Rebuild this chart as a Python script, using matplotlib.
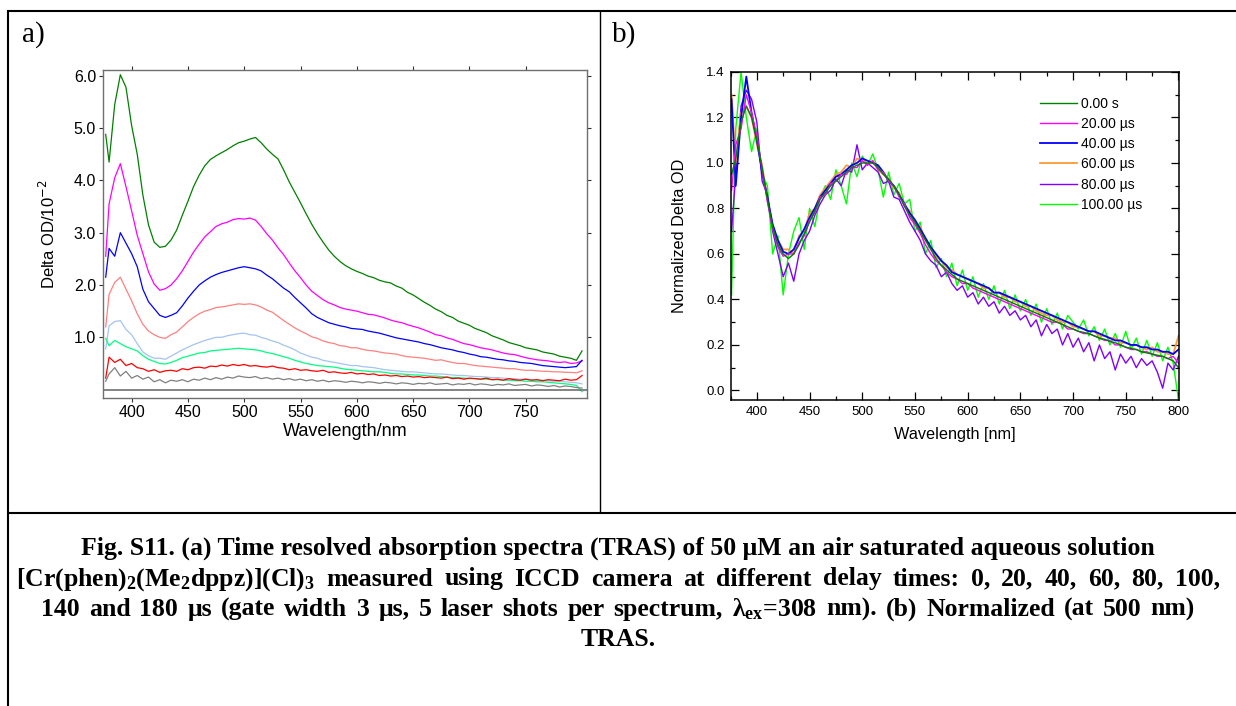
import matplotlib
matplotlib.use("Agg")
import matplotlib.pyplot as plt
from matplotlib.lines import Line2D
from matplotlib.ticker import MultipleLocator, FixedLocator, FormatStrFormatter
import numpy as np

plt.rcParams['font.family'] = 'Liberation Sans'
plt.rcParams['mathtext.fontset'] = 'dejavusans'
plt.rcParams['mathtext.rm'] = 'Liberation Serif:bold'
plt.rcParams['mathtext.it'] = 'Liberation Serif:bold'
plt.rcParams['mathtext.bf'] = 'Liberation Serif:bold'

# ---- data, panel a (Delta OD / 1e-2) ----
wl_a = [377] + list(range(380, 801, 5))

od_0us = [4.88, 4.35, 5.45, 6.02, 5.78, 5.05,
          4.5, 3.72, 3.15, 2.82, 2.72, 2.74, 2.86, 3.05, 3.33, 3.6,
          3.88, 4.1, 4.28, 4.4, 4.47, 4.53, 4.59, 4.66, 4.72, 4.75,
          4.79, 4.82, 4.72, 4.6, 4.5, 4.41, 4.2, 3.97, 3.77, 3.57,
          3.36, 3.16, 2.98, 2.82, 2.67, 2.55, 2.45, 2.37, 2.31, 2.26,
          2.22, 2.17, 2.14, 2.09, 2.06, 2.04, 1.98, 1.94, 1.86, 1.81,
          1.74, 1.67, 1.61, 1.54, 1.49, 1.42, 1.38, 1.31, 1.27, 1.23,
          1.17, 1.13, 1.09, 1.03, 0.99, 0.95, 0.9, 0.87, 0.84, 0.8,
          0.78, 0.76, 0.72, 0.7, 0.68, 0.64, 0.62, 0.6, 0.56, 0.74]
od_20us = [2.55, 3.55, 4.05, 4.32, 3.88, 3.42,
           2.95, 2.6, 2.25, 2.02, 1.9, 1.93, 2.0, 2.12, 2.27, 2.45,
           2.63, 2.78, 2.92, 3.02, 3.12, 3.17, 3.2, 3.25, 3.27, 3.26,
           3.28, 3.24, 3.12, 2.98, 2.86, 2.71, 2.58, 2.42, 2.27, 2.14,
           2.0, 1.88, 1.8, 1.72, 1.66, 1.62, 1.57, 1.54, 1.52, 1.5,
           1.47, 1.44, 1.43, 1.4, 1.37, 1.33, 1.3, 1.28, 1.24, 1.21,
           1.18, 1.14, 1.1, 1.05, 1.03, 0.99, 0.96, 0.92, 0.88, 0.86,
           0.83, 0.8, 0.78, 0.76, 0.73, 0.7, 0.68, 0.67, 0.64, 0.61,
           0.59, 0.57, 0.56, 0.55, 0.53, 0.52, 0.53, 0.5, 0.51, 0.55]
od_40us = [2.15, 2.7, 2.55, 3.0, 2.8, 2.6,
           2.35, 1.92, 1.68, 1.55, 1.42, 1.38, 1.42, 1.47, 1.6, 1.75,
           1.88, 2.0, 2.08, 2.15, 2.2, 2.24, 2.27, 2.3, 2.33, 2.35,
           2.33, 2.31, 2.27, 2.19, 2.12, 2.03, 1.94, 1.87, 1.76, 1.66,
           1.56, 1.45, 1.38, 1.33, 1.28, 1.25, 1.22, 1.2, 1.17, 1.16,
           1.15, 1.12, 1.1, 1.08, 1.05, 1.02, 0.99, 0.97, 0.95, 0.93,
           0.91, 0.88, 0.86, 0.83, 0.8, 0.78, 0.76, 0.73, 0.71, 0.68,
           0.66, 0.63, 0.62, 0.6, 0.58, 0.57, 0.55, 0.54, 0.52, 0.51,
           0.5, 0.48, 0.46, 0.45, 0.44, 0.43, 0.42, 0.43, 0.44, 0.56]
od_60us = [1.2, 1.82, 2.05, 2.15, 1.92, 1.7,
           1.45, 1.25, 1.12, 1.05, 1.0, 0.98, 1.05, 1.1, 1.2, 1.3,
           1.38, 1.45, 1.5, 1.53, 1.57, 1.58, 1.6, 1.62, 1.64, 1.63,
           1.64, 1.62, 1.58, 1.52, 1.48, 1.4, 1.32, 1.25, 1.18, 1.12,
           1.07, 1.01, 0.98, 0.93, 0.9, 0.88, 0.84, 0.83, 0.8, 0.8,
           0.77, 0.75, 0.74, 0.72, 0.7, 0.69, 0.68, 0.65, 0.63, 0.62,
           0.61, 0.6, 0.58, 0.56, 0.57, 0.54, 0.52, 0.5, 0.5, 0.48,
           0.46, 0.45, 0.44, 0.43, 0.42, 0.41, 0.4, 0.4, 0.38, 0.37,
           0.37, 0.36, 0.35, 0.35, 0.34, 0.34, 0.33, 0.33, 0.32, 0.36]
od_80us = [0.78, 1.22, 1.3, 1.32, 1.15, 1.05,
           0.88, 0.72, 0.65, 0.6, 0.6, 0.58, 0.64, 0.7, 0.76, 0.81,
           0.86, 0.9, 0.94, 0.97, 1.0, 1.0, 1.03, 1.05, 1.07, 1.08,
           1.05, 1.04, 1.0, 0.97, 0.93, 0.9, 0.85, 0.81, 0.76, 0.7,
           0.66, 0.62, 0.6, 0.56, 0.54, 0.52, 0.5, 0.48, 0.46, 0.46,
           0.44, 0.43, 0.42, 0.4, 0.38, 0.37, 0.36, 0.35, 0.34, 0.34,
           0.33, 0.32, 0.31, 0.3, 0.3, 0.29, 0.28, 0.27, 0.27, 0.26,
           0.25, 0.25, 0.24, 0.23, 0.23, 0.22, 0.21, 0.21, 0.2, 0.2,
           0.19, 0.18, 0.18, 0.17, 0.16, 0.16, 0.15, 0.14, 0.13, 0.11]
od_100us = [0.98, 0.84, 0.94, 0.88, 0.82, 0.78,
            0.74, 0.65, 0.58, 0.54, 0.5, 0.49, 0.52, 0.56, 0.61, 0.64,
            0.67, 0.7, 0.71, 0.74, 0.75, 0.76, 0.77, 0.78, 0.79, 0.78,
            0.77, 0.76, 0.74, 0.71, 0.69, 0.66, 0.63, 0.6, 0.56, 0.53,
            0.5, 0.48, 0.46, 0.45, 0.44, 0.43, 0.41, 0.39, 0.38, 0.37,
            0.36, 0.35, 0.34, 0.34, 0.33, 0.31, 0.3, 0.3, 0.29, 0.28,
            0.28, 0.27, 0.26, 0.26, 0.25, 0.24, 0.23, 0.23, 0.22, 0.21,
            0.21, 0.2, 0.2, 0.19, 0.19, 0.18, 0.18, 0.17, 0.17, 0.16,
            0.16, 0.15, 0.15, 0.14, 0.13, 0.12, 0.11, 0.1, 0.08, -0.04]
od_140us = [0.22, 0.62, 0.52, 0.58, 0.46, 0.5,
            0.42, 0.4, 0.35, 0.38, 0.33, 0.36, 0.37, 0.35, 0.4, 0.38,
            0.42, 0.43, 0.41, 0.45, 0.44, 0.47, 0.45, 0.48, 0.46, 0.48,
            0.45, 0.46, 0.44, 0.43, 0.45, 0.42, 0.41, 0.38, 0.4, 0.37,
            0.38, 0.36, 0.35, 0.37, 0.33, 0.34, 0.32, 0.31, 0.33, 0.3,
            0.31, 0.29, 0.3, 0.27, 0.28, 0.26, 0.27, 0.25, 0.26, 0.24,
            0.25, 0.23, 0.24, 0.23, 0.22, 0.24, 0.21, 0.22, 0.2, 0.22,
            0.21, 0.2, 0.22, 0.19, 0.2, 0.18, 0.21, 0.19, 0.18, 0.2,
            0.18, 0.19, 0.17, 0.19, 0.18, 0.17, 0.2, 0.18, 0.19, 0.27]
od_180us = [0.16, 0.3, 0.42, 0.26, 0.35, 0.22,
            0.27, 0.2, 0.24, 0.15, 0.19, 0.13, 0.18, 0.16, 0.19, 0.15,
            0.2, 0.18, 0.22, 0.19, 0.23, 0.2, 0.24, 0.22, 0.26, 0.24,
            0.23, 0.25, 0.21, 0.23, 0.2, 0.22, 0.19, 0.21, 0.18, 0.2,
            0.17, 0.19, 0.16, 0.18, 0.15, 0.17, 0.16, 0.14, 0.16, 0.15,
            0.13, 0.15, 0.14, 0.12, 0.14, 0.13, 0.11, 0.13, 0.12, 0.1,
            0.12, 0.11, 0.13, 0.1, 0.11, 0.12, 0.09, 0.11, 0.1, 0.12,
            0.09, 0.11, 0.1, 0.08, 0.1, 0.09, 0.11, 0.08, 0.09, 0.1,
            0.07, 0.09, 0.08, 0.06, 0.08, 0.05, 0.07, 0.06, 0.04, 0.03]

series_a = [od_0us, od_20us, od_40us, od_60us, od_80us, od_100us, od_140us, od_180us]
colors_a = ['#008000', '#ff00ff', '#0000ff', '#ff8080', '#a4c4ee', '#00ff80', '#ff0000', '#808080']

# ---- data, panel b (normalized at 500 nm) ----
wl_b = [376] + list(range(380, 801, 5))

norm_0s = [0.95, 1.02, 1.18, 1.25, 1.2, 1.1,
           0.98, 0.84, 0.72, 0.64, 0.6, 0.58, 0.6, 0.64, 0.69, 0.74,
           0.79, 0.84, 0.87, 0.9, 0.92, 0.94, 0.96, 0.98, 0.99, 1.0,
           1.0, 1.0, 0.98, 0.95, 0.93, 0.9, 0.86, 0.81, 0.77, 0.74,
           0.7, 0.66, 0.62, 0.58, 0.55, 0.53, 0.51, 0.49, 0.48, 0.47,
           0.46, 0.45, 0.44, 0.43, 0.42, 0.41, 0.4, 0.39, 0.38, 0.37,
           0.36, 0.35, 0.34, 0.33, 0.32, 0.31, 0.3, 0.29, 0.28, 0.27,
           0.26, 0.255, 0.25, 0.24, 0.23, 0.225, 0.215, 0.21, 0.2, 0.19,
           0.185, 0.18, 0.17, 0.165, 0.16, 0.155, 0.15, 0.14, 0.13, 0.1]
norm_20us = [0.88, 1.08, 1.15, 1.3, 1.22, 1.12,
             0.97, 0.83, 0.71, 0.63, 0.59, 0.6, 0.6, 0.65, 0.68, 0.75,
             0.78, 0.85, 0.86, 0.91, 0.92, 0.95, 0.95, 0.98, 0.98, 1.01,
             0.99, 1.01, 0.97, 0.96, 0.92, 0.9, 0.85, 0.82, 0.76, 0.73,
             0.69, 0.64, 0.6, 0.57, 0.55, 0.52, 0.5, 0.49, 0.47, 0.47,
             0.45, 0.44, 0.43, 0.42, 0.41, 0.4, 0.39, 0.38, 0.37, 0.36,
             0.35, 0.34, 0.33, 0.32, 0.31, 0.3, 0.3, 0.29, 0.27, 0.27,
             0.26, 0.25, 0.25, 0.24, 0.23, 0.22, 0.22, 0.2, 0.2, 0.19,
             0.18, 0.18, 0.17, 0.17, 0.16, 0.15, 0.15, 0.14, 0.15, 0.12]
norm_40us = [1.28, 0.9, 1.2, 1.38, 1.22, 1.1,
             0.96, 0.85, 0.73, 0.66, 0.61, 0.6, 0.62, 0.67, 0.71, 0.76,
             0.8, 0.85, 0.88, 0.91, 0.94, 0.95, 0.97, 0.99, 1.0, 1.02,
             1.01, 1.0, 0.99, 0.96, 0.92, 0.9, 0.86, 0.82, 0.78, 0.75,
             0.71, 0.67, 0.63, 0.6, 0.57, 0.55, 0.52, 0.51, 0.5, 0.49,
             0.48, 0.47, 0.46, 0.45, 0.43, 0.43, 0.42, 0.41, 0.4, 0.39,
             0.38, 0.37, 0.36, 0.35, 0.34, 0.33, 0.32, 0.31, 0.3, 0.29,
             0.28, 0.27, 0.26, 0.26, 0.25, 0.24, 0.23, 0.22, 0.22, 0.21,
             0.2, 0.2, 0.19, 0.19, 0.18, 0.18, 0.17, 0.17, 0.16, 0.18]
norm_60us = [1.3, 1.0, 1.22, 1.25, 1.2, 1.08,
             0.99, 0.84, 0.72, 0.66, 0.62, 0.62, 0.6, 0.68, 0.7, 0.78,
             0.8, 0.86, 0.89, 0.92, 0.95, 0.96, 0.99, 0.98, 1.02, 1.01,
             1.0, 1.01, 0.97, 0.95, 0.93, 0.89, 0.87, 0.81, 0.79, 0.74,
             0.72, 0.66, 0.63, 0.59, 0.57, 0.54, 0.53, 0.51, 0.5, 0.49,
             0.48, 0.47, 0.45, 0.45, 0.43, 0.43, 0.41, 0.41, 0.39, 0.39,
             0.37, 0.37, 0.35, 0.34, 0.33, 0.33, 0.31, 0.3, 0.3, 0.28,
             0.28, 0.27, 0.26, 0.26, 0.24, 0.24, 0.23, 0.23, 0.21, 0.21,
             0.2, 0.2, 0.19, 0.18, 0.19, 0.17, 0.17, 0.16, 0.16, 0.24]
norm_80us = [0.7, 0.95, 1.25, 1.32, 1.28, 1.18,
             0.92, 0.86, 0.7, 0.6, 0.5, 0.56, 0.48, 0.6, 0.66, 0.7,
             0.77, 0.82, 0.86, 0.88, 0.93, 0.9, 0.97, 0.96, 1.08, 0.97,
             1.0, 0.98, 0.96, 0.91, 0.92, 0.85, 0.84, 0.79, 0.74, 0.7,
             0.66, 0.6, 0.57, 0.55, 0.5, 0.52, 0.47, 0.44, 0.46, 0.41,
             0.43, 0.38, 0.41, 0.37, 0.39, 0.34, 0.37, 0.33, 0.35, 0.31,
             0.33, 0.28, 0.31, 0.24, 0.29, 0.25, 0.27, 0.2, 0.25, 0.19,
             0.23, 0.17, 0.21, 0.13, 0.2, 0.14, 0.17, 0.09, 0.16, 0.12,
             0.15, 0.1, 0.14, 0.11, 0.13, 0.08, 0.01, 0.12, 0.09, 0.15]
norm_100us = [0.42, 1.15, 1.4, 1.2, 1.05, 1.15,
              0.95, 0.9, 0.6, 0.68, 0.42, 0.6, 0.7, 0.76, 0.62, 0.8,
              0.72, 0.85, 0.9, 0.84, 0.97, 0.9, 0.82, 1.0, 0.94, 1.03,
              0.99, 1.04, 0.97, 0.85, 0.96, 0.86, 0.91, 0.82, 0.84, 0.7,
              0.74, 0.6, 0.66, 0.54, 0.58, 0.5, 0.56, 0.46, 0.53, 0.44,
              0.5, 0.41, 0.47, 0.4, 0.46, 0.38, 0.44, 0.36, 0.42, 0.35,
              0.4, 0.33, 0.38, 0.3, 0.36, 0.29, 0.34, 0.27, 0.33, 0.3,
              0.27, 0.31, 0.24, 0.28, 0.22, 0.27, 0.2, 0.25, 0.19, 0.26,
              0.18, 0.23, 0.16, 0.22, 0.15, 0.21, 0.13, 0.19, 0.12, -0.04]

series_b = [norm_0s, norm_20us, norm_40us, norm_60us, norm_80us, norm_100us]
labels_b = ['0.00 s', '20.00 µs', '40.00 µs', '60.00 µs', '80.00 µs', '100.00 µs']
colors_b = ['#008000', '#ff00ff', '#0000ff', '#ff9933', '#8000ff', '#00ff00']

caption = [
    "Fig. S11. (a) Time resolved absorption spectra (TRAS) of 50 \u03bcM an air saturated aqueous solution",
    "[Cr(phen)$_2$(Me$_2$dppz)](Cl)$_3$ measured using ICCD camera at different delay times: 0, 20, 40, 60, 80, 100,",
    "140 and 180 \u03bcs (gate width 3 \u03bcs, 5 laser shots per spectrum, \u03bb$_{ex}$=308 nm). (b) Normalized (at 500 nm)",
    "TRAS.",
]
# left/right pixel extent of lines set full width (None = centred)
caption_extent = [None, (16, 1220), (41, 1195), None]

W, H = 1236, 706
fig = plt.figure(figsize=(W / 100, H / 100), dpi=100)


def add_ax(left, top, right, bottom):
    return fig.add_axes([left / W, 1 - bottom / H, (right - left) / W, (bottom - top) / H])


def hline(x0, x1, y, lw=1.5):
    fig.add_artist(Line2D([x0 / W, x1 / W], [1 - y / H, 1 - y / H], transform=fig.transFigure,
                          color='black', lw=lw, solid_capstyle='butt'))


def vline(x, y0, y1, lw=1.5):
    fig.add_artist(Line2D([x / W, x / W], [1 - y0 / H, 1 - y1 / H], transform=fig.transFigure,
                          color='black', lw=lw, solid_capstyle='butt'))


# table frame
hline(7, W, 11)
hline(7, W, 513)
vline(8, 10, H)
vline(599.5, 11, 513, lw=1.0)

fig.text(22 / W, 1 - 21 / H, 'a)', family='Liberation Serif', fontsize=21, va='top', ha='left')
fig.text(612 / W, 1 - 21 / H, 'b)', family='Liberation Serif', fontsize=21, va='top', ha='left')

# ---- panel a ----
ax = add_ax(103, 70, 587, 398)
for vals, c in zip(series_a, colors_a):
    ax.plot(wl_a, vals, color=c, lw=0.9)
ax.axhline(0, color='#707070', lw=1.2)
ax.set_xlim(374.6, 804.4)
ax.set_ylim(-0.16, 6.11)
ax.xaxis.set_major_locator(FixedLocator([400, 450, 500, 550, 600, 650, 700, 750]))
ax.yaxis.set_major_locator(FixedLocator([1.0, 2.0, 3.0, 4.0, 5.0, 6.0]))
ax.yaxis.set_major_formatter(FormatStrFormatter('%.1f'))
ax.tick_params(axis='both', which='major', direction='out', length=3, width=0.8,
               labelsize=11.5, pad=2, color='#333333')
ax.tick_params(top=True, right=True)
for s in ax.spines.values():
    s.set_color('#707070')
    s.set_linewidth(1.0)
ax.set_xlabel('Wavelength/nm', fontsize=13, labelpad=2)
ax.set_ylabel('Delta OD/10$^{-2}$', fontsize=12, labelpad=11)

# ---- panel b ----
bx = add_ax(730.5, 72, 1179, 400)
order = [5, 4, 3, 2, 1, 0]
lines = {}
for i in order:
    lw = 1.3 if i in (2, 3) else 1.0
    ln, = bx.plot(wl_b, series_b[i], color=colors_b[i], lw=lw, label=labels_b[i])
    lines[i] = ln
bx.set_xlim(375, 800.5)
bx.set_ylim(-0.042, 1.4)
bx.xaxis.set_major_locator(MultipleLocator(50))
bx.xaxis.set_minor_locator(MultipleLocator(25))
bx.yaxis.set_major_locator(MultipleLocator(0.2))
bx.yaxis.set_minor_locator(MultipleLocator(0.1))
bx.yaxis.set_major_formatter(FormatStrFormatter('%.1f'))
bx.tick_params(which='both', direction='in', top=True, right=True, width=0.9, labelsize=9.5, pad=4)
bx.tick_params(which='major', length=6)
bx.tick_params(which='minor', length=3)
for s in bx.spines.values():
    s.set_linewidth(1.1)
bx.set_xlabel('Wavelength [nm]', fontsize=11.7, labelpad=7)
bx.set_ylabel('Normalized Delta OD', fontsize=11.7, labelpad=14)
leg = bx.legend([lines[i] for i in range(6)], labels_b, loc='upper left',
                bbox_to_anchor=(0.69, 0.925), frameon=False, fontsize=10,
                handlelength=2.65, handletextpad=0.3, labelspacing=0.45,
                borderpad=0, borderaxespad=0)

# ---- caption ----
cap_size = 18.5
baselines = [555, 585.5, 616, 646]
renderer = fig.canvas.get_renderer()
for line, yb, ext in zip(caption, baselines, caption_extent):
    if ext is None:
        fig.text(618 / W, 1 - yb / H, line, family='Liberation Serif', weight='bold',
                 fontsize=cap_size, ha='center', va='baseline', math_fontfamily='custom')
        continue
    x_left, x_right = ext
    words = line.split(' ')
    texts = [fig.text(0, 1 - yb / H, w, family='Liberation Serif', weight='bold',
                      fontsize=cap_size, ha='left', va='baseline', math_fontfamily='custom')
             for w in words]
    widths = [t.get_window_extent(renderer).width for t in texts]
    gap = (x_right - x_left - sum(widths)) / (len(words) - 1)
    x = x_left
    for t, w in zip(texts, widths):
        t.set_x(x / W)
        x += w + gap

fig.savefig('out.png', dpi=100)
